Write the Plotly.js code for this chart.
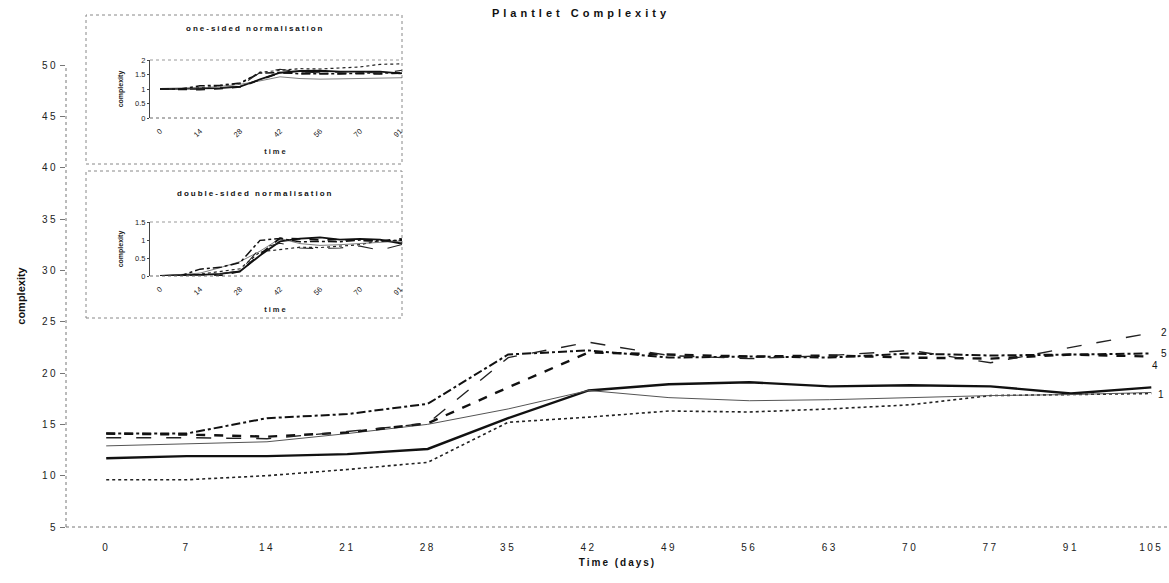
<!DOCTYPE html>
<html>
<head>
<meta charset="utf-8">
<script src="https://cdn.plot.ly/plotly-3.0.1.min.js"></script>
<style>
  html, body { margin: 0; padding: 0; background: #fff; }
  #chart { width: 1169px; height: 583px; }
  .xtick text, .ytick text { letter-spacing: 2.5px; }
  .gtitle { letter-spacing: 4px; }
  .g-xtitle text, .annotation-text { letter-spacing: 2px; }
  .g-x2title text, .g-x3title text { letter-spacing: 2px; }
</style>
</head>
<body>
<div id="chart"></div>
<script>
// Sampling days (categorical axis)
const days = ['0', '7', '14', '21', '28', '35', '42', '49', '56', '63', '70', '77', '91', '105'];

// Plantlet complexity per line (raw values)
const lineDotted    = [9.6, 9.6, 10.0, 10.6, 11.3, 15.2, 15.7, 16.3, 16.2, 16.5, 16.9, 17.8, 17.9, 18.0];
const lineThick     = [11.7, 11.9, 11.9, 12.1, 12.6, 15.6, 18.3, 18.9, 19.1, 18.7, 18.8, 18.7, 18.0, 18.6];
const lineThin      = [12.9, 13.1, 13.3, 14.1, 15.0, 16.5, 18.3, 17.6, 17.3, 17.4, 17.6, 17.8, 17.9, 18.1];
const lineDashDot   = [14.1, 14.1, 15.6, 16.0, 17.0, 21.8, 22.2, 21.5, 21.6, 21.5, 21.9, 21.7, 21.8, 21.9];
const lineHeavyDash = [14.1, 14.0, 13.8, 14.2, 15.1, 18.6, 22.0, 21.8, 21.6, 21.7, 21.5, 21.4, 21.8, 21.6];
const lineLongDash  = [13.7, 13.7, 13.6, 14.3, 15.1, 21.5, 23.0, 21.7, 21.4, 21.7, 22.2, 21.0, 22.5, 23.9];

// One-sided normalisation (relative to day 0)
const oneDotted    = [1.00, 1.00, 1.04, 1.10, 1.18, 1.58, 1.64, 1.70, 1.69, 1.72, 1.76, 1.85, 1.86, 1.88];
const oneThick     = [1.00, 1.02, 1.02, 1.03, 1.08, 1.33, 1.56, 1.62, 1.63, 1.60, 1.61, 1.60, 1.54, 1.59];
const oneThin      = [1.00, 1.02, 1.03, 1.09, 1.16, 1.28, 1.42, 1.36, 1.34, 1.35, 1.36, 1.38, 1.39, 1.40];
const oneDashDot   = [1.00, 1.00, 1.11, 1.13, 1.21, 1.55, 1.57, 1.52, 1.53, 1.52, 1.55, 1.54, 1.55, 1.55];
const oneHeavyDash = [1.00, 0.99, 0.98, 1.01, 1.07, 1.32, 1.56, 1.55, 1.53, 1.54, 1.52, 1.52, 1.55, 1.53];
const oneLongDash  = [1.00, 1.00, 0.99, 1.04, 1.10, 1.57, 1.68, 1.58, 1.56, 1.58, 1.62, 1.53, 1.64, 1.74];

// Double-sided normalisation (day 0 -> 0, final day -> 1)
const twoDotted    = [0.00, 0.00, 0.05, 0.12, 0.20, 0.67, 0.73, 0.80, 0.79, 0.82, 0.87, 0.98, 0.99, 1.00];
const twoThick     = [0.00, 0.03, 0.03, 0.06, 0.13, 0.57, 0.96, 1.04, 1.07, 1.01, 1.03, 1.01, 0.91, 1.00];
const twoThin      = [0.00, 0.04, 0.08, 0.23, 0.40, 0.69, 1.04, 0.90, 0.85, 0.87, 0.90, 0.94, 0.96, 1.00];
const twoDashDot   = [0.00, 0.00, 0.19, 0.24, 0.37, 0.99, 1.04, 0.95, 0.96, 0.95, 1.00, 0.97, 0.99, 1.00];
const twoHeavyDash = [0.00, -0.01, -0.04, 0.01, 0.13, 0.60, 1.05, 1.03, 1.00, 1.01, 0.99, 0.97, 1.03, 1.00];
const twoLongDash  = [0.00, 0.00, -0.01, 0.06, 0.14, 0.77, 0.91, 0.78, 0.76, 0.78, 0.83, 0.72, 0.86, 1.00];

// Series end labels
const endLabels = [
  { text: '2', series: lineLongDash,  dx: 8,  dy: 0 },
  { text: '5', series: lineDashDot,   dx: 8,  dy: 0 },
  { text: '4', series: lineHeavyDash, dx: -1, dy: 9 },
  { text: '1', series: lineThin,      dx: 5,  dy: 2 }
];

const insetTicks = ['0', '14', '28', '42', '56', '70', '91'];

// ---- geometry helpers (pixels -> paper fractions) ----
const W = 1169, H = 583;
const px = v => v / W;
const py = v => 1 - v / H;

const FONT = 'Liberation Sans, Arial, sans-serif';

const styles = [
  { dash: 'dot',      width: 1.6, color: '#222' },
  { dash: 'solid',    width: 2.4, color: '#111' },
  { dash: 'solid',    width: 1.0, color: '#555' },
  { dash: 'dashdot',  width: 2.0, color: '#111' },
  { dash: 'dash',     width: 2.4, color: '#111' },
  { dash: 'longdash', width: 1.4, color: '#222' }
];

function makeTraces(seriesList, xa, ya, scale) {
  return seriesList.map((s, i) => ({
    x: days, y: s, type: 'scatter', mode: 'lines',
    xaxis: xa, yaxis: ya, showlegend: false, hoverinfo: 'skip',
    line: { dash: styles[i].dash, width: styles[i].width * scale, color: styles[i].color }
  }));
}

const traces = [].concat(
  makeTraces([lineDotted, lineThick, lineThin, lineDashDot, lineHeavyDash, lineLongDash], 'x', 'y', 1),
  makeTraces([oneDotted, oneThick, oneThin, oneDashDot, oneHeavyDash, oneLongDash], 'x2', 'y2', 0.75),
  makeTraces([twoDotted, twoThick, twoThin, twoDashDot, twoHeavyDash, twoLongDash], 'x3', 'y3', 0.75)
);

// Main plot frame
const mainL = 66, mainT = 65, mainB = 527;
// Inset frames
const box1 = { l: 86, r: 402, t: 15, b: 164 };
const box2 = { l: 86, r: 402, t: 171, b: 318 };
const in1 = { l: 150, r: 402, t: 60, b: 118 };
const in2 = { l: 150, r: 402, t: 222, b: 276 };

const insetAxisX = (dom, anchorY) => ({
  type: 'category', domain: dom, range: [-0.5, 12.1], anchor: anchorY,
  tickmode: 'array', tickvals: insetTicks, ticktext: insetTicks,
  tickangle: -45, tickfont: { family: FONT, size: 7.5, color: '#222' },
  ticks: 'outside', ticklen: 5, tickcolor: 'rgba(0,0,0,0)',
  showline: false, showgrid: false, zeroline: false, fixedrange: true,
  title: { text: '<b>time</b>', font: { family: FONT, size: 7.5, color: '#222' }, standoff: 10 }
});
const insetAxisY = (dom, rng, anchorX) => ({
  domain: dom, range: rng, dtick: 0.5, tick0: 0,
  tickfont: { family: FONT, size: 7.5, color: '#222' },
  ticks: 'outside', ticklen: 2, tickcolor: '#444',
  showline: true, linecolor: '#444', linewidth: 1,
  showgrid: false, zeroline: false, anchor: anchorX, fixedrange: true,
  title: { text: '<b>complexity</b>', font: { family: FONT, size: 7, color: '#222' }, standoff: 10 }
});

const layout = {
  width: W, height: H,
  margin: { l: 0, r: 0, t: 0, b: 0, autoexpand: false },
  paper_bgcolor: '#fff', plot_bgcolor: 'rgba(0,0,0,0)',
  showlegend: false,
  title: {
    text: '<b>Plantlet Complexity</b>',
    font: { family: FONT, size: 11, color: '#111' },
    x: px(581), xanchor: 'center', y: py(13), yanchor: 'middle'
  },
  xaxis: {
    type: 'category', domain: [px(mainL), 1], range: [-0.5, 13.22],
    ticks: 'outside', ticklen: 11, tickcolor: 'rgba(0,0,0,0)',
    showline: false, showgrid: false, zeroline: false,
    tickfont: { family: FONT, size: 10, color: '#222' },
    title: { text: '<b>Time (days)</b>', font: { family: FONT, size: 10, color: '#111' }, standoff: 6 },
    anchor: 'y', automargin: false
  },
  yaxis: {
    domain: [py(mainB), py(mainT)], range: [5, 50], dtick: 5, tick0: 5,
    ticks: 'outside', ticklen: 5, tickcolor: '#777',
    showline: false, showgrid: false, zeroline: false,
    tickfont: { family: FONT, size: 10, color: '#222' },
    title: { text: '<b>complexity</b>', font: { family: FONT, size: 11, color: '#111' }, standoff: 14 },
    anchor: 'x', automargin: false
  },
  xaxis2: insetAxisX([px(in1.l), px(in1.r)], 'y2'),
  yaxis2: insetAxisY([py(in1.b), py(in1.t)], [0, 2], 'x2'),
  xaxis3: insetAxisX([px(in2.l), px(in2.r)], 'y3'),
  yaxis3: insetAxisY([py(in2.b), py(in2.t)], [0, 1.5], 'x3'),
  shapes: [
    // main axes (dotted)
    { type: 'line', xref: 'paper', yref: 'paper', x0: px(mainL), x1: 1, y0: py(mainB), y1: py(mainB),
      line: { color: '#777', width: 1, dash: 'dot' } },
    { type: 'line', xref: 'paper', yref: 'paper', x0: px(mainL), x1: px(mainL), y0: py(mainB), y1: py(mainT),
      line: { color: '#777', width: 1, dash: 'dot' } },
    // inset boxes
    { type: 'rect', xref: 'paper', yref: 'paper', x0: px(box1.l), x1: px(box1.r), y0: py(box1.b), y1: py(box1.t),
      line: { color: '#888', width: 1, dash: 'dot' }, fillcolor: 'rgba(0,0,0,0)', layer: 'below' },
    { type: 'rect', xref: 'paper', yref: 'paper', x0: px(box2.l), x1: px(box2.r), y0: py(box2.b), y1: py(box2.t),
      line: { color: '#888', width: 1, dash: 'dot' }, fillcolor: 'rgba(0,0,0,0)', layer: 'below' },
    // inset plot-area frames (top and bottom dotted)
    { type: 'line', xref: 'paper', yref: 'paper', x0: px(in1.l), x1: px(in1.r), y0: py(in1.t), y1: py(in1.t),
      line: { color: '#999', width: 1, dash: 'dot' } },
    { type: 'line', xref: 'paper', yref: 'paper', x0: px(in1.l), x1: px(in1.r), y0: py(in1.b), y1: py(in1.b),
      line: { color: '#666', width: 1, dash: 'dot' } },
    { type: 'line', xref: 'paper', yref: 'paper', x0: px(in2.l), x1: px(in2.r), y0: py(in2.t), y1: py(in2.t),
      line: { color: '#999', width: 1, dash: 'dot' } },
    { type: 'line', xref: 'paper', yref: 'paper', x0: px(in2.l), x1: px(in2.r), y0: py(in2.b), y1: py(in2.b),
      line: { color: '#666', width: 1, dash: 'dot' } }
  ],
  annotations: [
    { text: '<b>one-sided normalisation</b>', xref: 'paper', yref: 'paper',
      x: px(255), y: py(29), xanchor: 'center', yanchor: 'middle', showarrow: false,
      font: { family: FONT, size: 8, color: '#111' } },
    { text: '<b>double-sided normalisation</b>', xref: 'paper', yref: 'paper',
      x: px(255), y: py(193), xanchor: 'center', yanchor: 'middle', showarrow: false,
      font: { family: FONT, size: 8, color: '#111' } }
  ].concat(endLabels.map(l => ({
    text: l.text, xref: 'x', yref: 'y', x: days.length - 1, y: l.series[l.series.length - 1],
    xshift: l.dx, yshift: -l.dy, xanchor: 'left', yanchor: 'middle', showarrow: false,
    font: { family: FONT, size: 10, color: '#111' }
  })))
};

Plotly.newPlot('chart', traces, layout, { staticPlot: true, displayModeBar: false });
</script>
</body>
</html>
